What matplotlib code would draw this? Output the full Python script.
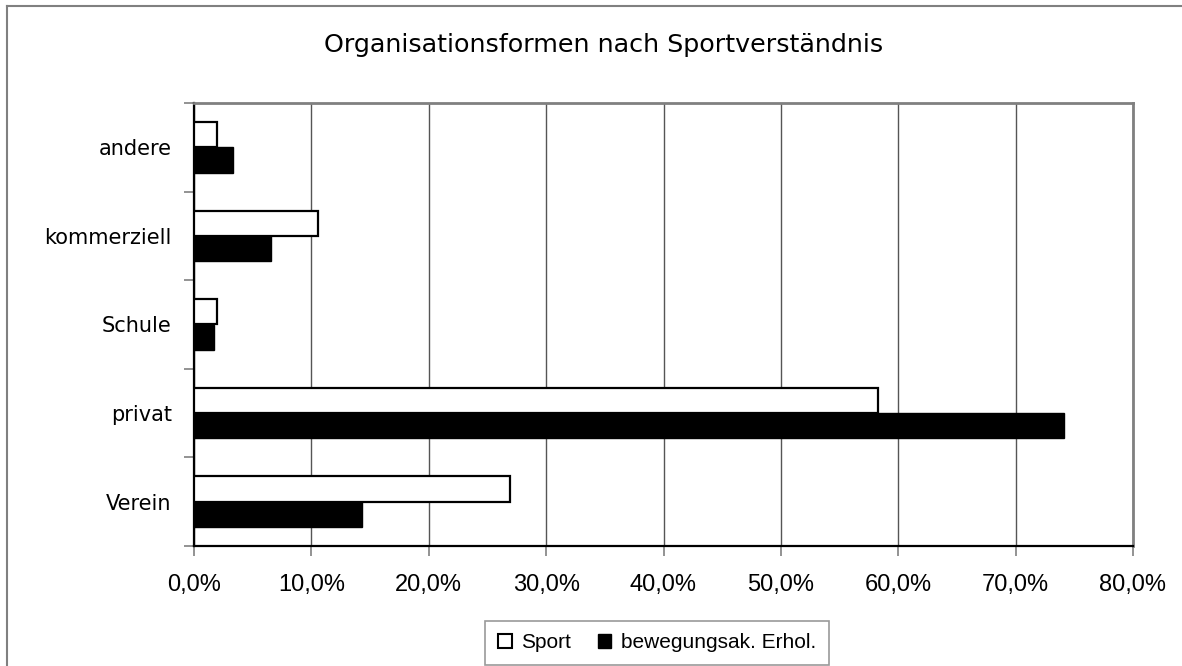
import numpy as np
import matplotlib
matplotlib.use('Agg')
import matplotlib.pyplot as plt
from matplotlib.patches import Patch
from matplotlib.lines import Line2D
from matplotlib.ticker import FuncFormatter, MultipleLocator


categories = ['Verein', 'privat', 'Schule', 'kommerziell', 'andere']
sport = [26.9, 58.3, 2.0, 10.6, 2.0]
erholung = [14.3, 74.1, 1.7, 6.6, 3.3]
series_labels = ['Sport', 'bewegungsak. Erhol.']
title = 'Organisationsformen nach Sportverständnis'

BAR_HEIGHT = 0.285
W, H = 1182, 666

fig = plt.figure(figsize=(W / 100, H / 100), dpi=100)
ax = fig.add_axes([194 / W, 1 - 546 / H, (1133 - 194) / W, (546 - 103) / H])

ys = np.arange(len(categories))
ax.barh(ys + BAR_HEIGHT / 2, sport, height=BAR_HEIGHT, color='white',
        edgecolor='black', linewidth=1.6, zorder=3)
ax.barh(ys - BAR_HEIGHT / 2, erholung, height=BAR_HEIGHT, color='black',
        edgecolor='black', linewidth=1.0, zorder=3)

ax.set_xlim(0, 80)
ax.set_ylim(-0.5, len(categories) - 0.5)
ax.xaxis.set_major_locator(MultipleLocator(10))
ax.xaxis.set_major_formatter(FuncFormatter(lambda v, p: f'{v:.1f}%'.replace('.', ',')))
ax.grid(axis='x', color='#555555', linewidth=1.0, zorder=0)

# category labels centred, ticks on the boundaries
ax.set_yticks(ys)
ax.set_yticklabels(categories, fontsize=15, family='DejaVu Sans')
ax.set_yticks(np.arange(-0.5, len(categories), 1.0), minor=True)
ax.tick_params(axis='y', which='major', length=0, pad=16)
ax.tick_params(axis='y', which='minor', length=7, width=1.2, color='#808080')
ax.tick_params(axis='x', length=7, width=1.2, color='#808080', pad=13)
for lbl in ax.get_xticklabels():
    lbl.set_family('Liberation Sans')
    lbl.set_fontsize(17)

for s in ['left', 'bottom']:
    ax.spines[s].set_color('black')
    ax.spines[s].set_linewidth(1.6)
for s in ['top', 'right']:
    ax.spines[s].set_color('#808080')
    ax.spines[s].set_linewidth(2.0)

fig.text(604 / W, 1 - 45 / H, title, ha='center', va='center',
         fontsize=18.3, family='DejaVu Sans')

handles = [Patch(facecolor='white', edgecolor='black', linewidth=1.5),
           Patch(facecolor='black', edgecolor='black')]
leg = fig.legend(handles, series_labels, loc='center',
                 bbox_to_anchor=(657 / W, 1 - 643 / H), ncol=2,
                 prop={'family': 'Liberation Sans', 'size': 15},
                 handlelength=0.65, handleheight=0.65, handletextpad=0.45,
                 columnspacing=1.3, borderpad=0.6, fancybox=False)
leg.get_frame().set_edgecolor('#808080')
leg.get_frame().set_linewidth(1.2)

# outer chart frame (only left and top edges fall inside the picture)
fig.add_artist(Line2D([7 / W, 7 / W], [0, 1 - 6 / H], color='#808080', linewidth=1.5))
fig.add_artist(Line2D([7 / W, 1], [1 - 6 / H, 1 - 6 / H], color='#808080', linewidth=1.5))

plt.savefig('out.png', dpi=100)
